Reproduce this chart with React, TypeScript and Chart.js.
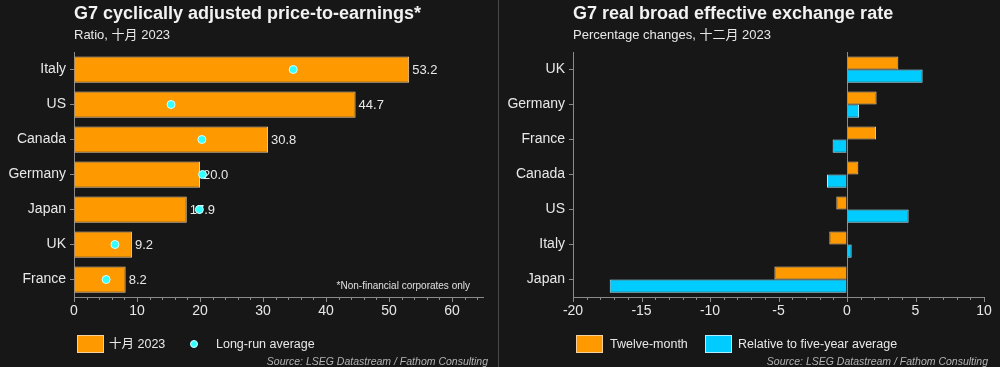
import React, { useEffect, useRef } from "react";
import { Chart, registerables } from "chart.js";

Chart.register(...registerables);

const FONT = '"Liberation Sans", Arial, "Noto Sans CJK SC", sans-serif';
Chart.defaults.font.family = FONT;

// ---- Left chart data ----
const peCountries = ["Italy", "US", "Canada", "Germany", "Japan", "UK", "France"];
const peCurrent = [53.2, 44.7, 30.8, 20.0, 17.9, 9.2, 8.2];
const peLongRun = [34.8, 15.4, 20.3, 20.4, 19.9, 6.5, 5.1];
const peSeriesLabel = "十月 2023";
const peAvgLabel = "Long-run average";

// ---- Right chart data ----
const fxCountries = ["UK", "Germany", "France", "Canada", "US", "Italy", "Japan"];
const fxTwelveMonth = [3.75, 2.16, 2.12, 0.83, -0.78, -1.29, -5.3];
const fxRelative5y = [5.52, 0.88, -1.05, -1.46, 4.5, 0.34, -17.32];
const fxLabelA = "Twelve-month";
const fxLabelB = "Relative to five-year average";

const BG = "#171717";
const AX = "#8a8a8a";
const TXT = "#e8e8e8";
const ORANGE = "#ff9900";
const ORANGE_BORDER = "#f2cf9c";
const BLUE = "#00ccff";
const BLUE_BORDER = "#aeeeff";
const CYAN = "#33ffff";

function minorTicksPlugin(minor: number, major: number) {
  return {
    id: "minorTicks",
    afterDraw(chart: any) {
      const s = chart.scales.x;
      const ctx = chart.ctx;
      ctx.save();
      ctx.strokeStyle = AX;
      ctx.lineWidth = 1;
      const n = Math.round((s.max - s.min) / minor);
      for (let i = 0; i <= n; i++) {
        const v = s.min + i * minor;
        if (v > s.max + 1e-9) break;
        const px = Math.round(s.getPixelForValue(v)) + 0.5;
        const isMajor = Math.abs(v % major) < 1e-9;
        const len = isMajor ? 5 : 3;
        ctx.beginPath();
        ctx.moveTo(px, s.top);
        ctx.lineTo(px, s.top + len);
        ctx.stroke();
      }
      ctx.restore();
    },
  };
}

const valueLabelPlugin = {
  id: "valueLabels",
  afterDatasetDraw(chart: any, args: any) {
    if (args.index !== 0) return;
    const ctx = chart.ctx;
    const meta = chart.getDatasetMeta(0);
    const data = chart.data.datasets[0].data as number[];
    ctx.save();
    ctx.fillStyle = TXT;
    ctx.font = `13px ${FONT}`;
    ctx.textAlign = "left";
    ctx.textBaseline = "middle";
    meta.data.forEach((el: any, i: number) => {
      ctx.fillText(data[i].toFixed(1), el.x + 3, el.y + 0.5);
    });
    ctx.restore();
  },
};

function LeftChart() {
  const ref = useRef<HTMLCanvasElement>(null);
  useEffect(() => {
    const chart = new Chart(ref.current!, {
      type: "bar",
      data: {
        labels: peCountries,
        datasets: [
          {
            type: "bar",
            label: peSeriesLabel,
            data: peCurrent,
            backgroundColor: ORANGE,
            borderColor: ORANGE_BORDER,
            borderWidth: 1,
            categoryPercentage: 0.75,
            barPercentage: 1,
            order: 1,
          } as any,
          {
            type: "line",
            label: peAvgLabel,
            data: peLongRun,
            showLine: false,
            pointRadius: 4,
            pointBackgroundColor: CYAN,
            pointBorderColor: "#d8ffff",
            pointBorderWidth: 1,
            order: 0,
          } as any,
        ],
      },
      options: {
        indexAxis: "y",
        responsive: false,
        animation: false,
        layout: { padding: { top: 52, right: 13.5, left: 0, bottom: 0 } },
        plugins: { legend: { display: false }, tooltip: { enabled: false } },
        scales: {
          x: {
            type: "linear",
            min: 0,
            max: 65,
            afterFit: (s: any) => {
              s.height = 70;
            },
            border: { color: AX, width: 1 },
            grid: { display: true, drawOnChartArea: false, drawTicks: false },
            ticks: {
              stepSize: 10,
              color: TXT,
              font: { size: 14 },
              padding: 6,
              maxRotation: 0,
              autoSkip: false,
              callback: (v: any) => (Number(v) % 10 === 0 ? String(v) : ""),
            },
          },
          y: {
            afterFit: (s: any) => {
              s.width = 74;
            },
            border: { color: AX, width: 1 },
            grid: { drawOnChartArea: false, offset: false, tickLength: 4, color: AX },
            ticks: { color: TXT, font: { size: 14 }, padding: 4 },
          },
        },
      } as any,
      plugins: [valueLabelPlugin, minorTicksPlugin(2, 10)],
    });
    return () => chart.destroy();
  }, []);
  return <canvas ref={ref} width={497} height={367} style={{ position: "absolute", left: 0, top: 0 }} />;
}

function RightChart() {
  const ref = useRef<HTMLCanvasElement>(null);
  useEffect(() => {
    const chart = new Chart(ref.current!, {
      type: "bar",
      data: {
        labels: fxCountries,
        datasets: [
          {
            label: fxLabelA,
            data: fxTwelveMonth,
            backgroundColor: ORANGE,
            borderColor: ORANGE_BORDER,
            borderWidth: 1,
            categoryPercentage: 0.75,
            barPercentage: 1,
          },
          {
            label: fxLabelB,
            data: fxRelative5y,
            backgroundColor: BLUE,
            borderColor: BLUE_BORDER,
            borderWidth: 1,
            categoryPercentage: 0.75,
            barPercentage: 1,
          },
        ],
      },
      options: {
        indexAxis: "y",
        responsive: false,
        animation: false,
        layout: { padding: { top: 52, right: 16, left: 0, bottom: 0 } },
        plugins: { legend: { display: false }, tooltip: { enabled: false } },
        scales: {
          x: {
            type: "linear",
            min: -20,
            max: 10,
            afterFit: (s: any) => {
              s.height = 70;
            },
            border: { color: AX, width: 1 },
            grid: {
              display: true,
              drawOnChartArea: true,
              drawTicks: false,
              color: (c: any) => (c.tick && c.tick.value === 0 ? AX : "rgba(0,0,0,0)"),
            },
            ticks: {
              stepSize: 5,
              color: TXT,
              font: { size: 14 },
              padding: 6,
              maxRotation: 0,
              autoSkip: false,
            },
          },
          y: {
            afterFit: (s: any) => {
              s.width = 74;
            },
            border: { color: AX, width: 1 },
            grid: { drawOnChartArea: false, offset: false, tickLength: 4, color: AX },
            ticks: { color: TXT, font: { size: 14 }, padding: 4 },
          },
        },
      } as any,
      plugins: [minorTicksPlugin(1, 5)],
    });
    return () => chart.destroy();
  }, []);
  return <canvas ref={ref} width={501} height={367} style={{ position: "absolute", left: 0, top: 0 }} />;
}

const titleStyle: React.CSSProperties = {
  position: "absolute",
  left: 74,
  top: 3,
  fontSize: 18,
  fontWeight: "bold",
  color: "#f2f2f2",
  whiteSpace: "nowrap",
  lineHeight: "21px",
};
const subStyle: React.CSSProperties = {
  position: "absolute",
  left: 74,
  top: 27,
  fontSize: 13,
  color: "#e8e8e8",
  whiteSpace: "nowrap",
  lineHeight: "16px",
};
const legendText: React.CSSProperties = {
  position: "absolute",
  top: 335,
  fontSize: 12.5,
  color: "#e8e8e8",
  lineHeight: "19px",
  whiteSpace: "nowrap",
};
const sourceStyle: React.CSSProperties = {
  position: "absolute",
  right: 9,
  top: 355,
  fontSize: 10.5,
  fontStyle: "italic",
  color: "#b4b4b4",
  lineHeight: "13px",
  whiteSpace: "nowrap",
};

function Box({ left, color, border }: { left: number; color: string; border: string }) {
  return (
    <div
      style={{
        position: "absolute",
        left,
        top: 335,
        width: 27,
        height: 18,
        background: color,
        border: `1px solid ${border}`,
        boxSizing: "border-box",
      }}
    />
  );
}

export default function App() {
  return (
    <div
      style={{
        position: "absolute",
        left: 0,
        top: 0,
        width: 1000,
        height: 367,
        background: BG,
        overflow: "hidden",
        fontFamily: FONT,
      }}
    >
      <div style={{ position: "absolute", left: 0, top: 0, width: 497, height: 367 }}>
        <LeftChart />
        <div style={titleStyle}>G7 cyclically adjusted price-to-earnings*</div>
        <div style={subStyle}>Ratio, 十月 2023</div>
        <div
          style={{
            position: "absolute",
            right: 27,
            top: 279,
            fontSize: 10,
            color: "#e0e0e0",
            lineHeight: "13px",
            whiteSpace: "nowrap",
          }}
        >
          *Non-financial corporates only
        </div>
        <Box left={77} color={ORANGE} border={ORANGE_BORDER} />
        <div style={{ ...legendText, left: 109 }}>{peSeriesLabel}</div>
        <div
          style={{
            position: "absolute",
            left: 190,
            top: 340,
            width: 8,
            height: 8,
            borderRadius: "50%",
            background: CYAN,
            border: "1px solid #d8ffff",
            boxSizing: "border-box",
          }}
        />
        <div style={{ ...legendText, left: 216 }}>{peAvgLabel}</div>
        <div style={sourceStyle}>Source: LSEG Datastream / Fathom Consulting</div>
      </div>
      <div style={{ position: "absolute", left: 498, top: 0, width: 1, height: 367, background: "#4a4a4a" }} />
      <div style={{ position: "absolute", left: 499, top: 0, width: 501, height: 367 }}>
        <RightChart />
        <div style={titleStyle}>G7 real broad effective exchange rate</div>
        <div style={subStyle}>Percentage changes, 十二月 2023</div>
        <Box left={77} color={ORANGE} border={ORANGE_BORDER} />
        <div style={{ ...legendText, left: 111 }}>{fxLabelA}</div>
        <Box left={206} color={BLUE} border={BLUE_BORDER} />
        <div style={{ ...legendText, left: 239 }}>{fxLabelB}</div>
        <div style={{ ...sourceStyle, right: 12 }}>Source: LSEG Datastream / Fathom Consulting</div>
      </div>
    </div>
  );
}
